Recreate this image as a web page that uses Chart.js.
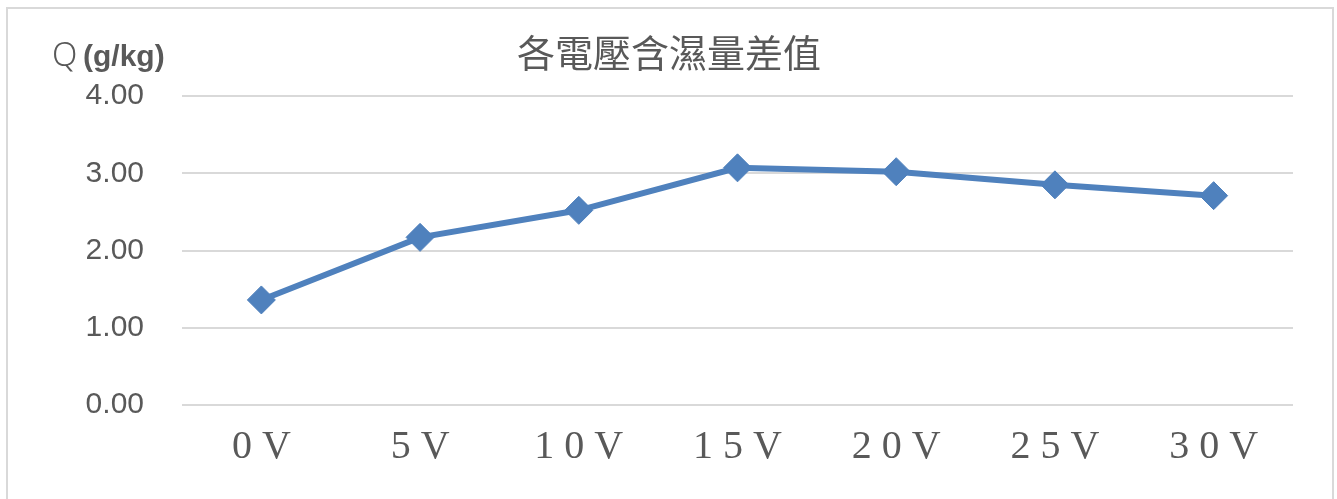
<!DOCTYPE html>
<html>
<head>
<meta charset="utf-8">
<script src="https://cdn.jsdelivr.net/npm/chart.js@4/dist/chart.umd.min.js"></script>
<style>
  html, body { margin: 0; padding: 0; background: #ffffff; }
  #wrap { position: relative; width: 1337px; height: 499px; }
</style>
</head>
<body>
<div id="wrap"><canvas id="c" width="1337" height="499"></canvas></div>
<script>
// Voltage settings (category axis)
const voltages = ['0 V', '5 V', '1 0 V', '1 5 V', '2 0 V', '2 5 V', '3 0 V'];
// Humidity-ratio difference Q (g/kg) at each voltage
const humidityDiff = [1.36, 2.17, 2.52, 3.07, 3.02, 2.85, 2.71];
// Value axis ticks
const yTicks = [0, 1, 2, 3, 4];

const titleText = '各電壓含濕量差值';
const axisUnitSymbol = 'Q';
const axisUnitText = '(g/kg)';

const TEXT_GREY = '#595959';
const GRID_GREY = '#d9d9d9';
const LINE_BLUE = '#4f81bd';

// Outer frame, title and unit label drawn on the canvas
const decorations = {
  id: 'decorations',
  beforeDraw(chart) {
    const ctx = chart.ctx;
    ctx.save();
    ctx.fillStyle = '#ffffff';
    ctx.fillRect(0, 0, chart.width, chart.height);
    ctx.strokeStyle = GRID_GREY;
    ctx.lineWidth = 2;
    ctx.strokeRect(7, 8, 1326, 500);
    ctx.restore();
  },
  afterDraw(chart) {
    const ctx = chart.ctx;
    ctx.save();
    ctx.fillStyle = TEXT_GREY;
    ctx.textBaseline = 'alphabetic';
    ctx.textAlign = 'center';
    ctx.font = '38px "Noto Sans CJK TC"';
    ctx.fillText(titleText, 669, 67);

    ctx.textAlign = 'left';
    ctx.font = '300 33px "Noto Sans"';
    ctx.fillText(axisUnitSymbol, 52, 66);
    ctx.font = 'bold 30px "Liberation Sans"';
    ctx.fillText(axisUnitText, 83, 66);
    ctx.restore();
  }
};

new Chart(document.getElementById('c'), {
  type: 'line',
  data: {
    labels: voltages,
    datasets: [{
      data: humidityDiff,
      borderColor: LINE_BLUE,
      backgroundColor: LINE_BLUE,
      borderWidth: 6,
      pointStyle: 'rectRot',
      pointRadius: 14,
      pointBorderWidth: 1,
      pointBorderColor: LINE_BLUE,
      pointBackgroundColor: LINE_BLUE,
      tension: 0,
      clip: false
    }]
  },
  options: {
    responsive: false,
    animation: false,
    events: [],
    layout: { padding: { left: 0, top: 96, right: 44, bottom: 0 } },
    plugins: {
      legend: { display: false },
      title: { display: false },
      tooltip: { enabled: false }
    },
    scales: {
      x: {
        type: 'category',
        offset: true,
        grid: { display: false, drawTicks: false },
        border: { display: false },
        ticks: {
          color: TEXT_GREY,
          font: { family: '"Liberation Serif"', size: 40 },
          padding: 18,
          maxRotation: 0,
          autoSkip: false
        },
        afterFit(scale) { scale.height = 94; }
      },
      y: {
        min: yTicks[0],
        max: yTicks[yTicks.length - 1],
        afterBuildTicks(scale) { scale.ticks = yTicks.map(v => ({ value: v })); },
        grid: { color: GRID_GREY, lineWidth: 2, drawTicks: false },
        border: { display: false },
        ticks: {
          color: TEXT_GREY,
          font: { family: '"Liberation Sans"', size: 30 },
          padding: 38,
          callback: v => Number(v).toFixed(2)
        },
        afterFit(scale) { scale.width = 182; }
      }
    }
  },
  plugins: [decorations]
});
</script>
</body>
</html>
